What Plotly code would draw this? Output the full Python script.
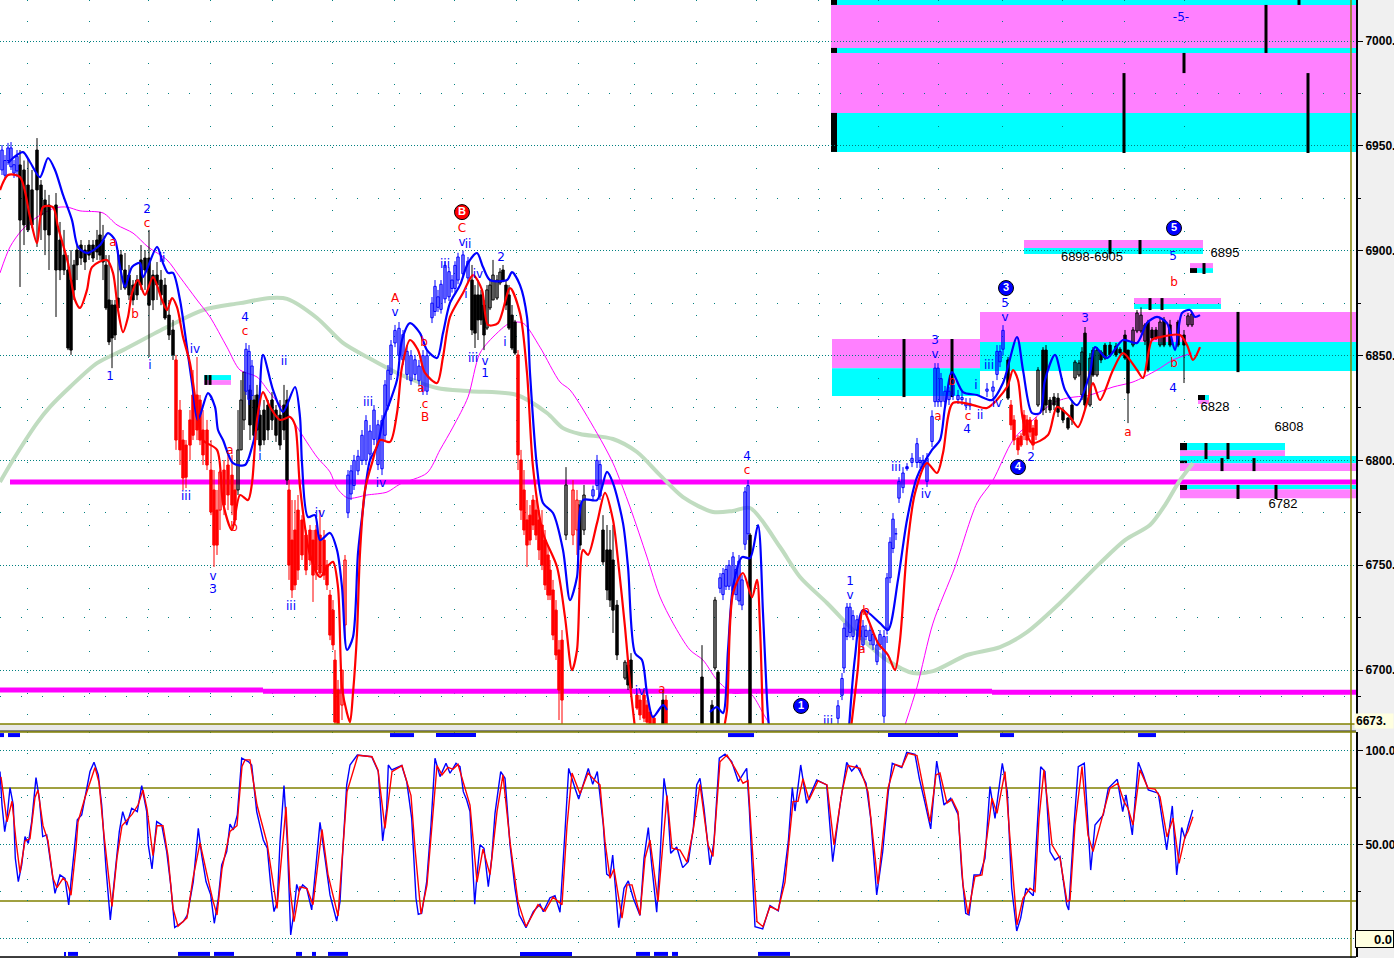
import plotly.graph_objects as go

# ---- moving averages (bar position, price) ----
green_x = [0,13,37,50,70,97,123,167,203,240,270,287,317,343,367,397,437,470,517,547,563,580,613,637,660,683,713,733,750,780,800,827,860,887,913,933,967,1000,1027,1060,1100,1125,1150,1165,1180,1193]
green_y = [6789.7,6800.2,6817.8,6825.5,6835,6846.4,6852.6,6863.6,6871.7,6875,6877.4,6877,6867.9,6856,6849.3,6841.7,6834.5,6833,6831.2,6822.6,6815.4,6812.6,6810.2,6804,6793,6782.5,6775.4,6775.9,6777.3,6758.7,6744.4,6732,6715.8,6704.8,6698.6,6699.5,6707.2,6711,6718.1,6732,6751,6762,6769.2,6778.7,6790.6,6798.7]

thin_x = [0,10,22,37,55,67,80,103,117,133,148,167,180,197,210,227,240,257,270,290,297,317,330,337,348,367,387,400,427,440,453,468,480,497,510,523,540,560,570,597,613,630,647,660,673,690,703,717,733,750,763,770,None,905,917,933,955,977,993,1013,1033,1053,1067,1090,1113,1133,1157,1173,1192]
thin_y = [6889.4,6901.8,6909.9,6916,6920.4,6920.8,6919,6918,6912.3,6908.4,6901.8,6895.6,6887.4,6876.5,6868.4,6854,6843.1,6839.8,6832.1,6820.7,6815.9,6801.6,6794.5,6786.8,6782,6783.5,6784.9,6788.7,6794,6805,6815.9,6830.2,6851.2,6860.7,6865.5,6865.5,6854,6837.4,6833.6,6813,6798.7,6777.8,6753.9,6734.9,6722.4,6709.6,6704.8,6695.3,6689,6689,6679.5,6673.8,None,6673.8,6691.9,6722.4,6749.2,6779.7,6790.6,6809.7,6819.3,6827.4,6829.7,6831.2,6835,6837.4,6843.1,6847.9,6851.2]

ma_blue_x = [8,13,23,30,40,48,55,63,72,78,87,100,108,115,120,125,132,140,143,157,163,168,173,180,185,192,198,208,215,218,223,233,245,252,258,263,273,283,295,300,302,308,315,320,330,337,342,347,353,358,362,370,377,383,388,397,402,410,420,427,437,443,450,460,468,477,483,490,507,512,520,527,530,537,543,553,563,570,577,583,597,607,613,623,628,635,642,647,653,663,667,None,710,717,723,728,733,742,750,758,763,767,769,None,849,855,863,880,888,898,907,917,932,940,945,952,963,977,992,1003,1017,1023,1032,1040,1045,1055,1065,1077,1090,1095,1107,1123,1137,1147,1157,1167,1175,1182,1190,1195,1200]
ma_blue_y = [6941.8,6944.2,6947,6942.3,6935.1,6944.2,6938.5,6926.6,6914.6,6901.8,6898.9,6902.7,6908.4,6905.1,6892.2,6882.7,6892.2,6894.1,6887.4,6901.8,6894.1,6889.4,6889.4,6876.5,6860.7,6836.9,6819.3,6832.1,6825.5,6814.5,6809.7,6798.7,6797.8,6806.4,6819.3,6850.3,6833.6,6823.1,6835,6820.7,6798.7,6773,6773.9,6762,6765.4,6757.3,6739.6,6709.6,6715.8,6755.8,6773,6800.2,6806.4,6819.3,6825.5,6838.3,6857.4,6865.5,6860.7,6852.6,6848.8,6860.7,6875.1,6883.6,6894.1,6898.9,6892.2,6886,6886,6889.8,6883.6,6868.4,6841.7,6796.8,6779.7,6774.9,6757.3,6733.4,6744.4,6781.1,6781.1,6794.5,6789.2,6770.1,6749.2,6708.1,6704.8,6689,6677.6,6683.3,6681,None,6680,6682.4,6679.5,6709.6,6739.6,6753.9,6753.4,6769.2,6727.2,6685.7,6672.4,None,6672.4,6706.2,6728.6,6722.4,6719.1,6743,6771.6,6792,6805,6809.7,6825.5,6842.1,6832.6,6831.2,6828.8,6836.9,6858.8,6843.1,6822.6,6822.6,6838.3,6850.3,6833.6,6826.4,6841.7,6854,6848.8,6857.4,6856,6865.5,6868.4,6865.5,6852.6,6870.3,6871.7,6868.4,6869.3]

ma_red_x = [0,8,20,30,37,43,53,58,68,75,80,87,92,107,113,118,123,128,132,138,145,153,162,167,172,177,183,190,197,203,217,223,232,240,248,252,257,263,270,280,290,295,300,310,320,327,333,338,342,347,350,353,357,360,365,372,380,390,397,402,410,418,425,437,443,450,463,473,482,488,498,510,520,527,533,543,557,565,572,577,583,588,597,605,613,618,625,630,635,None,724,727,733,743,752,757,760,763,None,851,858,863,878,888,895,900,907,915,927,937,943,953,973,987,1007,1013,1018,1023,1032,1048,1057,1070,1078,1087,1093,1100,1113,1123,1137,1143,1152,1160,1180,1187,1193,1200]
ma_red_y = [6928.9,6936.1,6935.1,6916,6903.6,6920.8,6920.8,6911.3,6894.1,6876.5,6872.7,6881.3,6892.2,6895.6,6889.4,6871.7,6861.2,6868.4,6879.8,6886,6878.9,6887.4,6876.5,6871.7,6877.4,6873.1,6858.8,6846.4,6824,6809.7,6805,6779.7,6766.8,6783.5,6781.1,6789.2,6819.3,6832.6,6825.5,6819.3,6820.7,6816.9,6787.3,6754.9,6744.4,6749.2,6751.6,6739.6,6691.9,6679.5,6675.2,6689,6717.6,6755.8,6785.9,6798.7,6809.7,6808.8,6822.6,6844.5,6857.4,6852.6,6841.7,6836.9,6849.3,6868.4,6879.8,6888.4,6881.3,6864.6,6865.5,6882.2,6870.3,6841.7,6796.8,6765.4,6749.2,6725.3,6700,6709.6,6757.3,6754.9,6770.1,6784.5,6771.6,6752.5,6720.5,6693.8,6672.4,None,6672.4,6681,6736.7,6746.3,6734.8,6743,6720.5,6672.4,None,6672.4,6701.4,6728.6,6712.9,6707.2,6700,6714.3,6757.3,6784.4,6798.7,6794,6803.5,6827.4,6826.4,6825,6835,6843.1,6838.3,6819.3,6808.3,6812.1,6825.5,6820.7,6815.9,6827.4,6836.9,6828.8,6843.1,6851.2,6843.1,6839.3,6857.4,6858.8,6859.8,6855,6847.9,6854]

# ---- price bars ----
black_x = [20,24,28,32,37,41,45,49,56,60,64,68,71,74,77,81,85,89,93,97,100,103,106,109,112,115,118,121,125,129,133,137,141,145,149,153,157,161,165,169,173,
           238,241,244,250,254,257,260,264,268,272,276,280,284,287,
           472,475,478,481,484,487,490,493,497,500,503,506,509,512,515,
           566,580,584,603,607,610,613,617,625,628,631,663,702,712,715,718,750,1008,
           1038,1043,1046,1050,1054,1058,1063,1068,1072,1075,1079,1082,1085,1090,1093,1097,1101,1105,1110,1116,1120,1125,1128,1133,1137,1141,1145,1148,1152,1156,1160,1164,1170,1178,1184,1188,1192]
black_h = [6948,6943,6944,6938.5,6953.7,6933.7,6929,6926.6,6927.5,6913.7,6909.9,6897.9,6900.3,6895.6,6902.7,6905.1,6902.7,6905.1,6905.1,6909.9,6918.5,6912.3,6897.9,6897.9,6876.5,6876.5,6900.3,6900.3,6898.9,6893.2,6886,6888.4,6902.7,6900.3,6909.9,6890.8,6894.6,6890.8,6887,6876.5,6867,
           6824,6838.3,6842.1,6836,6831.2,6836,6824,6828.8,6828.8,6832.6,6826.4,6828.8,6836,6833.6,
           6893.2,6883.6,6886,6881.3,6876.5,6883.6,6886,6895.6,6888.4,6891.7,6893.2,6886,6883.6,6874.1,6867,
           6796.8,6781.1,6788.3,6773.9,6769.2,6766.8,6769.2,6733.4,6704.8,6704.8,6708.1,6690.5,6711.9,6685.7,6734.9,6700,6765.4,6849.3,
           6844.5,6854,6855,6830.2,6832.1,6832.1,6825.5,6820.7,6828.8,6847.9,6847.9,6854,6863.6,6851.2,6854,6854,6852.6,6856,6856.5,6856,6854,6862.2,6852.6,6863.6,6871.7,6873,6865.5,6867,6863.6,6863.6,6868.4,6868.4,6867,6867,6862.2,6870.3,6870.8]
black_l = [6882.7,6902.7,6908.9,6910.8,6901.8,6905.1,6897.9,6890.8,6868.4,6886,6888.4,6852.6,6850.3,6876.5,6886,6893.2,6890.8,6895.6,6894.6,6895.6,6895.6,6886,6871.7,6855,6844,6857.4,6871.7,6881.3,6881.3,6876.5,6874,6876.5,6881.3,6881.3,6849.3,6871.7,6876.5,6874,6867,6857.4,6847.9,
           6783.5,6805,6814.5,6809.7,6809.7,6809.7,6805,6807.3,6809.7,6814.5,6808.8,6805,6809.7,6788.3,
           6859.8,6853.6,6857.4,6864.6,6852.6,6862.2,6871.7,6876.5,6876.5,6883.6,6885,6871.7,6862.2,6852.6,6850.3,
           6762,6757.3,6764.4,6750.1,6733.4,6730.1,6717.7,6704.8,6695.3,6690.5,6690.5,6672,6672,6672,6700,6672,6672,6828.8,
           6825.5,6821.6,6822.6,6822.6,6824,6820.7,6817.8,6814.5,6816.9,6838.3,6839.8,6828.8,6824,6825.5,6839.8,6839.8,6846.4,6847.9,6849.3,6849.3,6851.2,6847.9,6817.8,6854,6860.7,6860.7,6855,6842.1,6857.4,6857.4,6854,6854,6854,6854,6836.9,6863.6,6863.6]
black_o = [6940.9,6938.5,6931.3,6929,6948,6931.3,6924.2,6921.8,6921.8,6905.1,6897.9,6890.8,6886,6893.2,6900.3,6902.7,6900.3,6902.7,6902.7,6905.1,6907.5,6905.1,6893.2,6876.5,6874.1,6874.1,6877.4,6898,6890.8,6888.4,6883.6,6886,6895.6,6896.5,6896.5,6888.4,6888.4,6886,6883.6,6869.3,6862.2,
           6785.9,6805,6819.3,6833.6,6828.8,6831.2,6821.6,6824,6826.4,6828.8,6824,6821.6,6826.4,6828.8,
           6886,6878.9,6878.9,6878.9,6874.1,6863.1,6872.7,6876.5,6877.4,6884.6,6890.8,6883.6,6878.9,6869.3,6866,
           6764.4,6778.7,6766.8,6766.8,6757.3,6757.3,6752.5,6731,6696.2,6702.4,6704.8,6685.7,6696.7,6683.3,6701,6699,6764.4,6847.9,
           6826.4,6852.6,6852.6,6828.8,6830.2,6829.7,6824,6820.2,6826.4,6839.3,6840.7,6831.2,6860.7,6826.4,6852.6,6840.7,6851.7,6855,6855,6854.5,6853,6859.8,6852.6,6855,6861.7,6861.7,6856.9,6866,6862.2,6862.2,6855,6867,6864.6,6866,6859.8,6864.6,6864.6]
black_c = [6914.6,6912.3,6909.9,6912.3,6929,6917,6909.9,6907.5,6890.8,6890.8,6890.8,6853.6,6852.6,6881.3,6893.2,6896.5,6894.6,6897.9,6896.5,6899.4,6897.9,6894.6,6872.7,6856.5,6858.4,6859.8,6872.7,6890.8,6882.2,6878.9,6876.5,6878.9,6883.6,6890.8,6874,6876.5,6883.6,6878.9,6867.9,6859.8,6850.3,
           6805,6828.8,6842.1,6816.9,6812,6814.5,6807.3,6809.7,6814.5,6819.3,6812,6807.3,6814.5,6790.6,
           6862.2,6860.7,6867,6867,6859.8,6881.3,6883.6,6888.4,6886,6889.8,6886,6874.1,6863.1,6853.6,6851.2,
           6788.3,6759.6,6783.5,6751.6,6738.2,6733.4,6728.6,6707.2,6703.8,6692.9,6691.4,6674,6673.8,6673.8,6733.4,6673.8,6673.8,6829.7,
           6843.1,6824,6826.4,6824,6826.4,6823,6819.3,6815.4,6819.3,6846.9,6846.4,6851.7,6826.4,6848.8,6840.7,6852.6,6847.9,6848.8,6850.3,6850.3,6851.2,6848.8,6832.1,6862.2,6870.3,6869.3,6864.6,6843.1,6858.4,6858.4,6866,6855,6855,6855,6855,6868.9,6869.8]

red_x = [176,180,183,186,190,193,197,200,203,207,211,214,217,220,224,228,232,235,
         289,292,295,298,302,306,310,313,316,320,324,327,330,333,335,338,342,345,
         518,521,524,527,530,533,536,539,542,545,548,550,553,556,559,562,573,577,
         637,640,644,647,650,654,666,
         1011,1014,1018,1021,1024,1027,1030,1033,1036]
red_h = [6850.3,6828.8,6814.5,6809.7,6824,6843.1,6849.3,6831.2,6824,6819.3,6809.7,6795.4,6785.9,6795.4,6800.2,6802.6,6802.6,6790.6,
         6790.6,6781.1,6781.1,6783.5,6773.9,6766.8,6769.2,6766.8,6769.2,6776.3,6766.8,6752.5,6738.2,6733.4,6709.6,6695.3,6700,6754.9,
         6852.6,6805,6795.4,6781.1,6778.7,6783.5,6781.1,6776.3,6776.3,6766.8,6759.6,6752.5,6743,6733.4,6714.3,6719.1,6790.6,6785.9,
         6689,6688.1,6690.5,6685.7,6681,6678.6,6688.1,
         6828.8,6821.6,6812,6813,6824,6821.6,6820.7,6816.9,6820.7]
red_l = [6805,6797.8,6785.9,6786.8,6800.2,6809.7,6809.7,6807.3,6797.8,6795.4,6773.9,6749.2,6754.9,6766.8,6773.9,6776.3,6773.9,6769.2,
         6743,6734.4,6738.2,6743,6752.5,6745.3,6750.1,6732.5,6743,6745.3,6743,6738.2,6714.3,6709.6,6674.3,6673.3,6676.2,6714.3,
         6795.4,6771.6,6764.4,6749.2,6759.6,6766.8,6762,6752.5,6747.7,6738.2,6733.4,6733.4,6714.3,6704.8,6676.2,6672.4,6759.6,6754.9,
         6681,6676.2,6675.2,6673.3,6673.3,6673.3,6673.3,
         6814.5,6807.3,6802.6,6806.4,6809.7,6807.3,6811.1,6805,6809.7]
red_o = [6847.9,6824,6809.7,6807.3,6819.3,6831.2,6831.2,6828.8,6814.5,6814.5,6795.4,6785.9,6776.3,6776.3,6795.4,6797.8,6793,6785.9,
         6785.9,6762,6766.8,6776.3,6771.6,6764.4,6766.8,6762,6766.8,6764.4,6762,6750.1,6735.8,6728.6,6704.8,6690.5,6683.3,6721.5,
         6850.3,6800.2,6785.9,6771.6,6773.9,6781.1,6776.3,6771.6,6769.2,6762,6754.9,6747.7,6738.2,6728.6,6709.6,6714.3,6764.4,6766.8,
         6688.1,6685.7,6688.1,6683.3,6680,6677.1,6685.7,
         6826.4,6819.3,6810.7,6811.6,6821.6,6819.3,6819.3,6815.4,6819.3]
red_c = [6809.7,6805,6791.6,6792,6807.3,6812,6814.5,6809.7,6802.6,6797.8,6775.4,6759.6,6759.6,6794.5,6778.7,6783.5,6778.7,6771.6,
         6750.1,6738.2,6740.6,6747.7,6754.9,6747.7,6752.5,6745.3,6747.7,6746.3,6745.3,6740.6,6716.7,6712,6675.2,6673.8,6700,6752.5,
         6802.6,6776.3,6766.8,6759.6,6762,6769.2,6764.4,6757.3,6750.1,6740.6,6735.8,6735.8,6716.7,6707.2,6690.5,6685.7,6785.9,6781.1,
         6681.9,6678.6,6677.1,6675.2,6674.3,6674.3,6674.3,
         6816.9,6809.7,6805,6807.3,6812,6809.7,6813.5,6807.3,6812]

blue_x = [2,5,8,11,14,17,246,249,252,
          348,351,354,358,362,366,370,374,378,382,385,388,391,395,399,403,407,411,415,419,423,427,432,435,438,441,445,449,452,455,458,463,468,
          593,597,600,
          720,723,726,729,733,736,739,742,745,748,
          838,842,844,847,850,853,857,860,863,866,870,873,877,880,884,887,890,893,896,899,903,907,912,917,920,923,927,932,935,938,941,945,949,953,958,962,966,970,987,993,997,1000,1003,1174]
blue_h = [6950.4,6945.6,6951.4,6951.8,6943.3,6948,6856,6855,6847.9,
          6795.4,6797.8,6802.6,6805,6814.5,6821.6,6816.9,6826.4,6819.3,6821.6,6838.3,6845.5,6857.4,6864.6,6866,6862.2,6855,6852.6,6850.3,6847.9,6852.6,6852.6,6877.9,6886,6881.3,6886,6895,6892,6888.4,6895,6899,6900,6897,
          6788,6802.6,6800.2,
          6746.3,6748.7,6750.1,6752.5,6756.3,6750.1,6754.9,6745.3,6787.3,6790.6,
          6685.7,6698.6,6722.4,6732,6732,6728.6,6726.2,6721.5,6723.9,6721.5,6721.5,6719.1,6714.3,6719.1,6719.1,6746.3,6763.4,6774.9,6767.7,6792,6796.8,6798.7,6803.5,6810.7,6801.6,6802.6,6803.5,6823.9,6846.4,6846.4,6841.7,6835.5,6835,6838.3,6833.6,6832.6,6829.7,6829.7,6836.9,6837.9,6855,6855,6864.5,6881.3]
blue_l = [6936.1,6933.7,6940.9,6938.5,6934.7,6935,6831.2,6826.4,6828.8,
          6772.5,6781.1,6785.9,6793,6797.8,6797.8,6800.2,6807.3,6795.4,6793,6809.7,6824,6838.3,6854,6847.9,6845.5,6838.3,6836,6838.3,6835.5,6831.2,6831.2,6865.5,6868.9,6870.8,6870,6875,6876,6880,6880,6884,6887.5,6884.6,
          6781.1,6785.9,6781.1,
          6736.7,6733.4,6738.2,6738.2,6735.8,6733.4,6731,6728.6,6757.3,6762,
          6674.3,6685.7,6698.6,6714.3,6715.5,6714.3,6716.7,6714.3,6709.6,6714.3,6711.9,6709.6,6702.4,6709.6,6674.8,6717.6,6741.5,6755.8,6762,6779.7,6784.4,6795,6796.8,6796.4,6796.4,6795.9,6787.3,6806.4,6825.5,6825.5,6825.5,6825.5,6826.4,6828.8,6826.9,6826.4,6824,6824,6830.2,6830.2,6838.3,6844.5,6850]
blue_o = [6938.5,6936,6943,6940,6937,6938,6833,6829,6831,
          6775,6784,6788,6795,6800,6800,6803,6810,6798,6796,6812,6826,6841,6856,6850,6848,6841,6838,6841,6838,6833,6833,6868,6871,6873,6872,6877,6878,6882,6882,6886,6889,6887,
          6783,6788,6783,
          6739,6736,6740,6740,6738,6736,6733,6731,6760,6765,
          6677,6688,6701,6716,6718,6716,6719,6716,6712,6716,6714,6712,6704,6712,6678,6720,6744,6758,6765,6782,6787,6797,6799,6799,6799,6798,6790,6809,6828,6828,6828,6828,6829,6831,6829,6829,6826,6826,6833,6833,6841,6847,6853]
blue_c = [6948,6943,6949,6949,6941,6945,6853,6852,6845,
          6793,6795,6800,6802,6812,6819,6814,6824,6817,6819,6836,6843,6855,6862,6863,6860,6852,6850,6848,6845,6850,6850,6875,6883,6878,6884,6893,6890,6886,6893,6897,6898,6895,
          6786,6800,6798,
          6744,6746,6748,6750,6754,6748,6752,6743,6785,6788,
          6683,6696,6720,6730,6730,6726,6724,6719,6721,6719,6719,6717,6712,6717,6716,6744,6761,6772,6765,6790,6794,6796,6801,6808,6800,6800,6801,6821,6844,6844,6839,6833,6833,6836,6831,6830,6827,6827,6834,6835,6852,6852,6862,6873]

# ---- target zones: left, right, top price, bottom price, kind ----
zone_x0 = [831,831,831,831,831, 832,832,980,980, 1024,1024, 1190,1190, 1134,1134, 1198,1198, 1180,1180, 1180,1180, 1180,1180, 204,204]
zone_x1 = [1356,1356,1356,1356,1356, 980,980,1356,1356, 1203,1203, 1213,1213, 1221,1221, 1209,1209, 1285,1285, 1356,1356, 1356,1356, 231,231]
zone_top = [7019.6,7017.2,6996.7,6994.3,6965.7, 6857.9,6844,6870.8,6856.5, 6905.1,6901.3, 6894.1,6891.7, 6877.4,6874.6, 6831.2,6828.8, 6808.3,6804.9, 6802.1,6798.7, 6788.3,6786.3, 6840.7,6838.3]
zone_bot = [7017.2,6996.7,6994.3,6965.7,6947.1, 6844,6830.7,6856.5,6842.6, 6901.3,6898.4, 6891.7,6889.4, 6874.6,6872.2, 6828.8,6826.9, 6804.9,6801.1, 6798.7,6794.9, 6786.3,6782, 6838.3,6836]
zone_kind = ["c","m","c","m","c", "m","c","m","c", "m","c", "m","c", "m","c", "c","m", "c","m", "c","m", "c","m", "c","m"]
block_x0 = [831,831,831,1190,1198,1180,1180,1180]
block_x1 = [837,837,837,1197,1205,1187,1187,1187]
block_top = [7019.6,6996.7,6965.7,6891.7,6831.2,6808.3,6799.9,6788.3]
block_bot = [7017.2,6994.3,6947.1,6889.4,6828.8,6804.9,6798.7,6785.9]
tick_x = [1124,1308,1184,1266,1299,904,952,1238,1110,1140,1204,1150,1162,1206,1228,1222,1254,1238,1276,206,210]
tick_top = [6984.7,6984.7,6994.3,7017.2,7019.6,6857.9,6857.9,6870.8,6905.1,6905.1,6894.1,6877.4,6877.4,6808.3,6808.3,6801.1,6801.1,6788.3,6788.3,6840.7,6840.7]
tick_bot = [6946.6,6946.6,6984.7,6994.3,7017.2,6830.2,6830.2,6842.1,6898.4,6898.4,6888.9,6871.7,6871.7,6800.6,6800.6,6794.9,6794.9,6781.6,6781.6,6836,6836]

# ---- support / resistance lines ----
level_x0 = [10,0,263,992]
level_x1 = [1356,263,992,1356]
level_y = [6789.7,6690.5,6689.9,6689.4]

# ---- wave labels ----
blue_lab_x = [110,150,147,162,195,186,213,213,260,245,284,291,320,368,395,381,445,462,468,466,478,501,473,485,485,505,640,747,828,850,850,887,896,926,935,935,967,976,980,989,997,1005,1005,1031,1085,1173,1173,1181]
blue_lab_y = [6839.8,6845,6919.4,6896,6852.6,6782.5,6744.4,6738.2,6801.6,6867.9,6846.9,6730.1,6774.4,6827.4,6870.3,6788.7,6893.2,6903.6,6902.7,6878.9,6888.4,6896.5,6848.3,6846.9,6841.2,6856,6689.5,6801.6,6675.2,6742,6735.3,6714.3,6796.4,6783.5,6857,6850.3,6814.5,6835.5,6821.2,6845,6826.9,6874.6,6867.9,6801.1,6867.4,6897,6834,7011]
blue_lab_t = ["1","i","2","ii","iv","iii","v","3","i","4","ii","iii","iv","iii","v","iv","iii","v","ii","i","iv","2","iii","v","1","i","iv","4","iii","1","v","i","iii","iv","3","v","4","i","ii","iii","iv","5","v","2","3","5","4","-5-"]
red_lab_x = [147,113,135,234,230,245,395,424,421,425,425,462,662,747,866,862,938,968,952,1128,1174,1174]
red_lab_y = [6912.7,6903.6,6869.3,6767.7,6804.5,6861.2,6877,6856,6834,6826.6,6820.2,6910.3,6690.5,6794.9,6727.7,6709.6,6820.7,6820.7,6837.4,6813,6884.6,6846]
red_lab_t = ["c","a","b","b","a","c","A","b","a","c","B","C","a","c","b","a","a","c","b","a","b","b"]
black_lab_x = [1092,1225,1215,1289,1283]
black_lab_y = [6896.5,6898.4,6825,6815.4,6778.7]
black_lab_t = ["6898-6905","6895","6828","6808","6782"]
circ_x = [801,1006,1018,1174,462]
circ_y = [6682.9,6882.2,6796.8,6910.8,6918.4]
circ_t = ["1","3","4","5","B"]
circ_c = ["#0000ff","#0000ff","#0000ff","#0000ff","#ff0000"]

# ---- oscillator: (bar position, value) ----
osc_blue = [(0,88.8),(2,71),(4.7,56.8),(7.3,65.7),(10,80.3),(13.3,71),(15.3,42.7),(18.3,30.3),(21.7,39.1),(25,54.2),(28.3,50.6),(31.7,62.2),(36,85.6),(39.3,74.6),(42.7,54.2),(46.7,55.1),(50,42.7),(55,24),(60,33.8),(65,32),(68.7,17.9),(72.7,39.1),(77.3,63.1),(81.7,65.7),(86,77.3),(90,88.8),(94,93.7),(98.3,87),(101.7,71),(106,37.4),(110.3,9.9),(115,33.8),(119.3,56.9),(122.7,67.5),(126.7,60.4),(131.7,69.3),(137.3,67.5),(141.7,81.3),(146.7,67.5),(148.3,49.8),(152,37),(156.7,62.2),(161.7,60.4),(166.7,46.2),(170.7,28.5),(174.7,5.8),(183.3,9),(187.3,12.5),(193.3,30.3),(198.3,58.6),(201.7,44.4),(206,30.3),(210.7,23.2),(214.3,8.1),(218.3,21.4),(221.7,39.1),(226.7,46.2),(230,60.8),(233.3,57.8),(237.3,65.7),(241.7,95.9),(248.3,94.1),(251.7,92.3),(256.7,67.5),(263.3,52.4),(267.3,48),(270.7,28.5),(274,14.3),(277.3,19.6),(280,51.5),(284,81.3),(287.3,51.5),(290.7,1.9),(294,14.3),(296.7,28.8),(299,25),(302.7,28.5),(306.7,26.7),(311.7,15.2),(316,39.1),(320,61.8),(325,42.7),(330,23.2),(336.7,9.3),(340,19.6),(343.3,51.5),(346.7,81.7),(350,92.3),(357.3,97.6),(371.7,96.7),(378.3,88.8),(382.7,51.9),(386.7,69.3),(388.3,92.3),(391.7,89.7),(401.7,92),(406.7,83.5),(411.7,63.9),(416,21.4),(418.3,12.9),(421.7,13.4),(426.7,30.3),(431,60.4),(435,95.9),(440,86.1),(446,93.2),(450,87.9),(456,93.2),(460,91.4),
            (463.3,78.1),(466.7,73.7),(470,67.5),(474.7,18.2),(476.7,32),(480,49.8),(484,48),(488.3,27.6),(491.7,42.7),(495,66.6),(500.7,88.8),(505,85.2),(510,49.8),(515,26.7),(519.3,12.5),(526,5.8),(533.3,14.3),(540,18.2),(543.3,14.3),(550,21.7),(555,22.8),(560,14),(565,56.9),(568.7,90.5),(575,79.9),(578.7,74.2),(588.3,90.5),(592.7,82),(597.3,88.8),(603.3,60.4),(606.7,34.2),(610,33),(612.7,44.4),(615.3,28.5),(618.7,5.8),(624,26.7),(628.3,30.6),(633.3,21.4),(640,12.2),(644,42.7),(648.3,59),(651.7,39.1),(656.7,14),(660,42.7),(664,85.2),(667.3,73.7),(670.7,45.3),(676.7,48.7),(682.7,37.7),(688.3,40.9),(693.3,58.6),(696.7,81.7),(700,85.2),(704,69.3),(710,39.1),(714,51.5),(719.3,95.9),(725,98),(731.7,94.1),(738.3,83.5),(746.7,90.5),(749.3,69.3),(753.3,28.5),(755,6.3),(762.7,5.1),(770,17.5),(778.3,14.7),(783.3,30.3),(788.3,51.5),(792.3,80.3),(795,67.8),(800.7,92.3),(806.7,71.9),(816.7,84.3),(826.7,81.7),(832.7,40.9),(840,71),(846.7,93.7),(851.7,89.1),(856.7,92),(866,82.6),(870.7,63.9),(876.7,23.2),(882.7,46.2),(888.3,78.1),(892.3,93.2),(901.7,90.9),(906.7,99),(915,98),(919.3,85.2),
            (924.7,72.8),(930.7,58.3),(936.7,94.4),(940,83.5),(944,71),(950.7,74.6),(958.3,65.7),(961.7,35.6),(965.7,13.4),(969,12.5),(974,33.8),(980,33.8),(985,42.7),(990,80.8),(995,63.9),(1002.3,93.2),(1007.3,78.1),(1011.7,26.7),(1016.7,4),(1020.7,10.8),(1026,26.7),(1033.3,22.8),(1037.3,60.4),(1040.7,91.4),(1045,88.8),(1050,46.2),(1055,41.8),(1060,43.6),(1066.7,17.9),(1068.7,15.2),(1074,60.4),(1078.3,91.4),(1084.3,93.2),(1088.3,55.1),(1090.7,36.4),(1095,60.4),(1103.3,65.7),(1108.3,79.9),(1117.3,84.7),(1122.7,67.5),(1126,76.4),(1132.3,55.1),(1138.3,93.7),(1143.3,87),(1148.3,79),(1158.3,77.3),(1163.3,60.4),(1166.7,47.1),(1172.3,70.5),(1176.7,33.8),(1181.7,59),(1185,53.3),(1188.3,60.4),(1192.7,68.4)]
osc_red = [(1,86),(4,74),(7,62),(12,73),(16,52),(20,35),(25,52),(30,53),(35,75),(38,79),(43,60),(48,52),(53,32),(57,27),(63,32),(67,30),(71,23),(76,48),(78,62),(85,75),(95,91),(99,83),(104,55),(112,17),(117,43),(122,60),(127,63),(132,66),(138,71),(143,79),(147,69),(153,44),(157,60),(163,60),(168,44),(173,16),(178,6.5),(187,11),(193,32),(200,51),(207,34),(213,20),(217,12.5),(222,37),(230,57),(237,60),(242,91.5),(245,95),(250,95),(257,71),(267,51),(272,34),(277,16),(286,70),(290,26.5),(294,9),(300,27.5),(307,26.5),(313,18),(322,58),(328,34),(338,12),(347,78),(358,97.5),(372,96.7),(378,89.7),(385,58.6),(392,88.8),(402,92),(411,76),(415,48),(421,13),(427,28.5),(437,92),(442,87),(448,91),(453,90),(458,92.6),
           (465,80),(470,71),(477,30),(483,47.6),(490,34),(497,67.5),(503,87),(510,51.5),(518,19.6),(526,6.3),(538,18),(545,14.6),(553,22),(562,18),(567,60),(572,88),(580,77),(588,88),(595,84),(600,81.7),(605,51.5),(610,32),(614,37),(622,10.8),(627,28.5),(632,28.5),(640,12.5),(645,42.7),(650,52.4),(658,19.6),(667,76),(672,48),(680,47),(687,40.6),(693,57),(700,82),(708,49.8),(713,43.6),(720,94),(727,97.6),(735,90.5),(743,82.6),(748,84),(753,39),(757,9),(763,6.3),(770,17),(778,15),(785,30),(793,72.8),(798,73),(803,85),(809,73.7),(818,83.8),(827,81.7),(834,49.8),(842,78),(848,92),(860,90.5),(868,78),(878,29),(888,80),(895,92.6),(902,91.4),(908,98.5),(917,97.3),
           (925,76),(930,62),(936,87),(940,88),(947,72),(952,74),(958,67.5),(963,28.5),(968,12.9),(975,33),(982,33.8),(985,46),(992,74.6),(997,66.6),(1005,88.8),(1010,53),(1017,7.2),(1023,21.4),(1030,26.7),(1035,25),(1039,64),(1044,89.7),(1052,49.8),(1060,42.7),(1067,19.6),(1070,20.5),(1075,60.4),(1082,91.4),(1088,55),(1093,46.2),(1100,60.4),(1110,80),(1118,82.6),(1124,72.8),(1128,69.3),(1133,60.4),(1140,89.7),(1148,80),(1155,79.5),(1160,75.4),(1167,54),(1173,64),(1179,40),(1185,54),(1188,57),(1193,64.8)]
stripe_top_x0 = [0,8,390,436,728,888,1000,1138]
stripe_top_x1 = [4,20,414,476,754,958,1014,1156]
stripe_bot_x0 = [64,68,178,214,296,312,328,520,636,654,672,758]
stripe_bot_x1 = [66,78,210,234,302,316,348,572,650,668,678,790]
stripe_top_val = 108.2
stripe_bot_val = -8.2

# ---- axes ----
grid_cols = [27,89,148,210,272,332,394,454,516,578,634,696,756,818,878,938,1002,1062,1124,1184]
price_ticks = [7000,6950,6900,6850,6800,6750,6700]
price_text = ["7000.","6950.","6900.","6850.","6800.","6750.","6700."]
price_minor = [6975,6925,6875,6825,6775,6725,6687.5]
osc_ticks = [100,50,0]
osc_text = ["100.0","50.00",""]
osc_minor = [75,25]

TEAL = "#008080"
OLIVE = "#808000"
MAG = "#ff80ff"
CYAN = "#00ffff"
BODY_HALF = 1.2

def segs(x0, x1, y0, y1):
    xs, ys = [], []
    for a, b, c, d in zip(x0, x1, y0, y1):
        xs += [a, b, None]
        ys += [c, d, None]
    return xs, ys

fig = go.Figure()

def line(x, y, color, width, yaxis="y", xaxis="x", smooth=False):
    ln = dict(color=color, width=width)
    if smooth:
        ln.update(shape="spline", smoothing=0.8)
    fig.add_trace(go.Scatter(x=x, y=y, mode="lines", line=ln,
                             connectgaps=False, hoverinfo="skip", showlegend=False, xaxis=xaxis, yaxis=yaxis))

def candles(x, o, h, l, c, color):
    xs, ys = segs(x, x, h, l)
    line(xs, ys, color, 1)
    fx, fy, hx, hy = [], [], [], []
    for xi, oi, ci in zip(x, o, c):
        a, b = xi - BODY_HALF, xi + BODY_HALF
        px = [a, b, b, a, a, None]
        pv = [oi, oi, ci, ci, oi, None]
        if ci < oi:
            fx += px; fy += pv
        else:
            hx += px; hy += pv
    fig.add_trace(go.Scatter(x=fx, y=fy, mode="lines", fill="toself", fillcolor=color, line=dict(color=color, width=1),
                             hoverinfo="skip", showlegend=False))
    line(hx, hy, color, 1)

xs, ys = segs(level_x0, level_x1, level_y, level_y)
line(xs, ys, "#ff00ff", 5)
line(green_x, green_y, "#c0dcc0", 4, smooth=True)
line(thin_x, thin_y, "#ff00ff", 1, smooth=True)
xs, ys = segs(tick_x, tick_x, tick_top, tick_bot)
line(xs, ys, "#000000", 3)
candles(black_x, black_o, black_h, black_l, black_c, "#000000")
candles(red_x, red_o, red_h, red_l, red_c, "#ff0000")
candles(blue_x, blue_o, blue_h, blue_l, blue_c, "#0000ff")
line(ma_blue_x, ma_blue_y, "#0000ff", 2.2, smooth=True)
line(ma_red_x, ma_red_y, "#ff0000", 2.2, smooth=True)

def labels(x, y, t, color, size=12, family="DejaVu Sans"):
    fig.add_trace(go.Scatter(x=x, y=y, text=t, mode="text", textposition="middle center",
                             textfont=dict(color=color, size=size, family=family),
                             hoverinfo="skip", showlegend=False))

labels(blue_lab_x, blue_lab_y, blue_lab_t, "#0000ff")
labels(red_lab_x, red_lab_y, red_lab_t, "#ff0000")
labels(black_lab_x, black_lab_y, black_lab_t, "#000000", 13, "Liberation Sans")
fig.add_trace(go.Scatter(x=circ_x, y=circ_y, text=circ_t, mode="markers+text", textposition="middle center",
                         marker=dict(size=15, color=circ_c, line=dict(color="#000000", width=1)),
                         textfont=dict(color="#ffffff", size=11, family="Liberation Sans", weight="bold"),
                         hoverinfo="skip", showlegend=False))

line([p[0] for p in osc_blue], [p[1] for p in osc_blue], "#0000ff", 1.4, "y2", "x2")
line([p[0] for p in osc_red], [p[1] for p in osc_red], "#ff0000", 1.4, "y2", "x2")
xs, ys = segs(stripe_top_x0, stripe_top_x1, [stripe_top_val]*len(stripe_top_x0), [stripe_top_val]*len(stripe_top_x0))
line(xs, ys, "#0000ff", 4, "y2", "x2")
xs, ys = segs(stripe_bot_x0, stripe_bot_x1, [stripe_bot_val]*len(stripe_bot_x0), [stripe_bot_val]*len(stripe_bot_x0))
line(xs, ys, "#0000ff", 4, "y2", "x2")

shapes = []
for a, b, t, u, k in zip(zone_x0, zone_x1, zone_top, zone_bot, zone_kind):
    shapes.append(dict(type="rect", xref="x", yref="y", x0=a, x1=b, y0=u, y1=t, layer="below", line_width=0,
                       fillcolor=MAG if k == "m" else CYAN))
for a, b, t, u in zip(block_x0, block_x1, block_top, block_bot):
    shapes.append(dict(type="rect", xref="x", yref="y", x0=a, x1=b, y0=u, y1=t, layer="below", line_width=0,
                       fillcolor="#000000"))
for v in [80, 20]:
    shapes.append(dict(type="line", xref="x2", yref="y2", x0=0, x1=1356, y0=v, y1=v, layer="below",
                       line=dict(color=OLIVE, width=1.5)))
H = 958.0
PW = 1356.0
def py(px):
    return 1 - px / H
# separator between the panes
shapes.append(dict(type="rect", xref="paper", yref="paper", x0=0, x1=1, y0=py(730), y1=py(724), line_width=0, fillcolor="#e8e8e8"))
shapes.append(dict(type="rect", xref="paper", yref="paper", x0=0, x1=1, y0=py(732), y1=py(730), line_width=0, fillcolor="#808080"))
shapes.append(dict(type="line", xref="paper", yref="paper", x0=0, x1=1, y0=py(724), y1=py(724), line=dict(color=OLIVE, width=1.5)))
shapes.append(dict(type="line", xref="paper", yref="paper", x0=0, x1=1, y0=py(732), y1=py(732), line=dict(color=OLIVE, width=1.5)))
shapes.append(dict(type="line", xref="paper", yref="paper", x0=1351/PW, x1=1351/PW, y0=0, y1=1, line=dict(color=OLIVE, width=1.5)))
shapes.append(dict(type="line", xref="paper", yref="paper", x0=0, x1=1, y0=py(957), y1=py(957), line=dict(color="#000000", width=1.5)))

axis_font = dict(family="Liberation Sans", size=12, color="#000000", weight="bold")
def xaxis(anchor):
    return dict(domain=[0, 1], range=[0, 1356], anchor=anchor, showticklabels=False, ticks="", zeroline=False, automargin=False,
                tickmode="array", tickvals=grid_cols, showgrid=True, gridcolor=TEAL, griddash="1px,20px", gridwidth=1,
                showline=False)

fig.update_layout(
    width=1394, height=958, margin=dict(l=0, r=38, t=0, b=0), autosize=False,
    paper_bgcolor="#f0f0f0", plot_bgcolor="#ffffff", showlegend=False, hovermode=False,
    shapes=shapes,
    xaxis=xaxis("y"), xaxis2=xaxis("y2"),
    yaxis=dict(domain=[py(724), 1], range=[6674.3, 7019.55], side="right", anchor="x", tickmode="array", automargin=False,
               tickvals=price_ticks, ticktext=price_text, tickfont=axis_font, ticks="outside", ticklen=5, tickcolor="#000000",
               showline=True, linecolor="#000000", linewidth=2, zeroline=False, showgrid=True, gridcolor=TEAL,
               griddash="1px,2px", gridwidth=1,
               minor=dict(tickmode="array", tickvals=price_minor, ticks="outside", ticklen=3, tickcolor="#000000",
                          showgrid=True, gridcolor=TEAL, griddash="1px,20px", gridwidth=1)),
    yaxis2=dict(domain=[py(957), py(732)], range=[-9.84, 109.84], side="right", anchor="x2", tickmode="array", automargin=False,
                tickvals=osc_ticks, ticktext=osc_text, tickfont=axis_font, ticks="outside", ticklen=5, tickcolor="#000000",
                showline=True, linecolor="#000000", linewidth=2, zeroline=False, showgrid=True, gridcolor=TEAL,
                griddash="1px,2px", gridwidth=1,
                minor=dict(tickmode="array", tickvals=osc_minor, ticks="outside", ticklen=3, tickcolor="#000000",
                           showgrid=True, gridcolor=TEAL, griddash="1px,20px", gridwidth=1)),
    annotations=[
        dict(xref="paper", yref="paper", x=1394/PW, y=py(721), xanchor="right", yanchor="middle", text="<b>6673.</b>", showarrow=False,
             width=36, height=12, bgcolor="#ffffe0", font=dict(family="Liberation Sans", size=12, color="#000000"), align="left"),
        dict(xref="paper", yref="paper", x=1394/PW, y=py(938.5), xanchor="right", yanchor="middle", text="<b>0.0</b>", showarrow=False,
             width=35, height=14, bgcolor="#ffffe0", bordercolor="#000000", borderwidth=1,
             font=dict(family="Liberation Sans", size=13, color="#000000"), align="right"),
    ],
)

fig.write_html("out.html", config={"displayModeBar": False},
               post_script="document.body.style.margin='0';document.body.style.overflow='hidden';")
